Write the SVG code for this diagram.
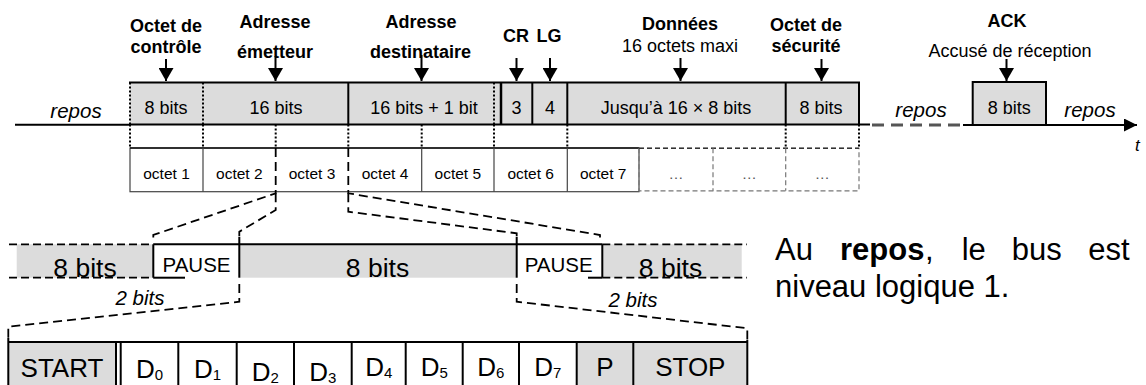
<svg xmlns="http://www.w3.org/2000/svg" width="1146" height="385" viewBox="0 0 1146 385">
<style>
text{font-family:"Liberation Sans",Arial,sans-serif;fill:#000}
.lb{font-weight:bold;font-size:18px;text-anchor:middle}
.lr{font-size:18px;text-anchor:middle}
.fr{font-size:18px;text-anchor:middle}
.oc{font-size:15.5px;text-anchor:middle}
.dots{font-size:15px;text-anchor:middle;fill:#555}
.it{font-style:italic;font-size:20.5px;text-anchor:middle}
.pz{font-size:20.5px;text-anchor:middle}
.big{font-size:26.5px;text-anchor:middle}
.bt{font-size:26px;text-anchor:middle}
.sub{font-size:15px}
.txt{font-size:31px}
.solid{stroke:#000;stroke-width:2;fill:none}
.thick{stroke:#000;stroke-width:2.5;fill:none}
.dotv{stroke:#000;stroke-width:2;stroke-dasharray:2 2;fill:none}
.thin{stroke:#444;stroke-width:1.2;fill:none}
.gdash{stroke:#777;stroke-width:1.2;stroke-dasharray:5 3;fill:none}
.conn{stroke:#000;stroke-width:1.8;stroke-dasharray:9 5;fill:none}
.edge{stroke:#000;stroke-width:1.8;stroke-dasharray:8 4;fill:none}
.gray{fill:#dcdcdc}
.arr{stroke:#000;stroke-width:2;fill:none;marker-end:url(#ah)}
</style>
<defs>
<marker id="ah" markerUnits="userSpaceOnUse" markerWidth="13" markerHeight="15" viewBox="0 0 13 15" refX="13" refY="7.5" orient="auto"><path d="M0,0 L13,7.5 L0,15 Z" fill="#000"/></marker>
<marker id="ax" markerUnits="userSpaceOnUse" markerWidth="13" markerHeight="13" viewBox="0 0 13 13" refX="13" refY="6.5" orient="auto"><path d="M0,0 L13,6.5 L0,13 Z" fill="#000"/></marker>
</defs>

<g id="labels">
<text class="lb" x="166" y="32">Octet de</text>
<text class="lb" x="166" y="53">contrôle</text>
<text class="lb" x="275" y="28">Adresse</text>
<text class="lb" x="275" y="58">émetteur</text>
<text class="lb" x="421" y="28">Adresse</text>
<text class="lb" x="420.5" y="57.5">destinataire</text>
<text class="lb" x="516" y="42">CR</text>
<text class="lb" x="549" y="42">LG</text>
<text class="lb" x="680" y="30">Données</text>
<text class="lr" x="680" y="52">16 octets maxi</text>
<text class="lb" x="806" y="31">Octet de</text>
<text class="lb" x="806" y="52">sécurité</text>
<text class="lb" x="1007" y="27">ACK</text>
<text class="lr" x="1010" y="56.5">Accusé de réception</text>
</g>

<g id="label-arrows">
<line class="arr" x1="166" y1="59" x2="166" y2="81"/>
<line class="arr" x1="275.5" y1="56" x2="275.5" y2="81"/>
<line class="arr" x1="421.5" y1="55" x2="421.5" y2="81"/>
<line class="arr" x1="516.5" y1="58" x2="516.5" y2="81"/>
<line class="arr" x1="550" y1="58" x2="550" y2="81"/>
<line class="arr" x1="680.5" y1="58" x2="680.5" y2="81"/>
<line class="arr" x1="821.5" y1="59" x2="821.5" y2="81"/>
<line class="arr" x1="1006.5" y1="59" x2="1006.5" y2="81"/>
</g>

<g id="frame">
<rect class="gray" x="130" y="82.5" width="729" height="42"/>
<line class="solid" x1="129" y1="82.5" x2="860" y2="82.5"/>
<line class="dotv" x1="130" y1="82.5" x2="130" y2="124.5"/>
<line class="dotv" x1="203" y1="82.5" x2="203" y2="124.5"/>
<line class="solid" x1="348.3" y1="82.5" x2="348.3" y2="124.5"/>
<line class="dotv" x1="494" y1="82.5" x2="494" y2="124.5"/>
<line class="thick" x1="501" y1="82.5" x2="501" y2="124.5"/>
<line class="solid" x1="532.3" y1="82.5" x2="532.3" y2="124.5"/>
<line class="solid" x1="567.3" y1="82.5" x2="567.3" y2="124.5" stroke-width="1.6"/>
<line class="solid" x1="785.7" y1="82.5" x2="785.7" y2="124.5"/>
<line class="solid" x1="859" y1="82.5" x2="859" y2="124.5"/>
<text class="fr" x="166" y="114.3">8 bits</text>
<text class="fr" x="276" y="114.3">16 bits</text>
<text class="fr" x="424" y="114.3">16 bits + 1 bit</text>
<text class="fr" x="516.5" y="114.3">3</text>
<text class="fr" x="550" y="114.3">4</text>
<text class="fr" x="676" y="114.3">Jusqu’à 16 × 8 bits</text>
<text class="fr" x="821" y="114.3">8 bits</text>
</g>

<g id="ack">
<rect class="gray" x="972.7" y="82" width="73.3" height="43"/>
<rect class="solid" x="972.7" y="82" width="73.3" height="43"/>
<text class="fr" x="1009.3" y="114.3">8 bits</text>
</g>

<g id="axis">
<line class="solid" x1="15" y1="124.8" x2="130" y2="124.8"/>
<line class="solid" x1="129" y1="124.5" x2="870" y2="124.5"/>
<line x1="872" y1="125" x2="963" y2="125" stroke="#555" stroke-width="3" stroke-dasharray="12 7"/>
<line class="solid" x1="963" y1="125" x2="973" y2="125"/>
<line x1="1046" y1="125" x2="1137" y2="125" stroke="#000" stroke-width="2" marker-end="url(#ax)"/>
<text class="it" x="76" y="117.5">repos</text>
<text class="it" x="921" y="117">repos</text>
<text class="it" x="1090" y="117">repos</text>
<text x="1135" y="151" font-style="italic" font-size="17">t</text>
</g>

<g id="dotted-links">
<line class="dotv" x1="130" y1="124.5" x2="130" y2="148"/>
<line class="dotv" x1="203" y1="124.5" x2="203" y2="148"/>
<line class="dotv" x1="275.7" y1="124.5" x2="275.7" y2="148"/>
<line class="dotv" x1="348.3" y1="124.5" x2="348.3" y2="148"/>
<line class="dotv" x1="421.7" y1="124.5" x2="421.7" y2="148"/>
<line class="dotv" x1="494" y1="124.5" x2="494" y2="148"/>
<line class="dotv" x1="567.3" y1="124.5" x2="567.3" y2="148"/>
<line class="dotv" x1="785.7" y1="124.5" x2="785.7" y2="148"/>
<line class="dotv" x1="859" y1="124.5" x2="859" y2="148"/>
</g>

<g id="octets">
<rect x="130" y="148" width="509" height="43.7" fill="#fff" class="thin"/>
<line x1="130" y1="148" x2="639" y2="148" stroke="#111" stroke-width="1.6"/>
<line class="thin" x1="203" y1="148" x2="203" y2="191.7"/>
<line class="thin" x1="421.7" y1="148" x2="421.7" y2="191.7"/>
<line class="thin" x1="494" y1="148" x2="494" y2="191.7"/>
<line class="thin" x1="567.3" y1="148" x2="567.3" y2="191.7"/>
<rect class="gdash" x="639" y="148.3" width="220" height="42.5"/>
<line x1="639" y1="148.3" x2="859" y2="148.3" stroke="#333" stroke-width="1.4" stroke-dasharray="5 3"/>
<line class="gdash" x1="713" y1="148.3" x2="713" y2="190.8"/>
<line class="gdash" x1="785.7" y1="148.3" x2="785.7" y2="190.8"/>
<text class="oc" x="166.5" y="179">octet 1</text>
<text class="oc" x="239.3" y="179">octet 2</text>
<text class="oc" x="312" y="179">octet 3</text>
<text class="oc" x="385" y="179">octet 4</text>
<text class="oc" x="457.8" y="179">octet 5</text>
<text class="oc" x="530.7" y="179">octet 6</text>
<text class="oc" x="603.2" y="179">octet 7</text>
<text class="dots" x="676" y="179">…</text>
<text class="dots" x="749.3" y="179">…</text>
<text class="dots" x="822.3" y="179">…</text>
</g>

<g id="middle-row">
<rect class="gray" x="16.7" y="244.3" width="136.6" height="33.4"/>
<rect class="gray" x="239.3" y="244.3" width="277.4" height="33.4"/>
<rect class="gray" x="602.3" y="244.3" width="139.4" height="33.4"/>
<line class="edge" x1="9" y1="244.3" x2="153.3" y2="244.3"/>
<line class="edge" x1="9" y1="277.7" x2="153.3" y2="277.7"/>
<line class="edge" x1="602.3" y1="244.3" x2="747" y2="244.3"/>
<line class="edge" x1="602.3" y1="277.7" x2="747" y2="277.7"/>
<line class="solid" x1="153.3" y1="244.3" x2="602.3" y2="244.3"/>
<line class="solid" x1="153.3" y1="244.3" x2="153.3" y2="277.7"/>
<line class="solid" x1="153.3" y1="277.7" x2="185" y2="277.7"/>
<line class="solid" x1="239.3" y1="236.7" x2="239.3" y2="277.7"/>
<line class="solid" x1="516.7" y1="236.7" x2="516.7" y2="277.7"/>
<line class="solid" x1="602.3" y1="244.3" x2="602.3" y2="277.7"/>
<line class="solid" x1="588" y1="277.7" x2="602.3" y2="277.7"/>
<text class="big" x="85" y="277">8 bits</text>
<text class="pz" x="196.5" y="272.3">PAUSE</text>
<text class="big" x="377.5" y="277">8 bits</text>
<text class="pz" x="558.7" y="272.3">PAUSE</text>
<text class="big" x="670.5" y="277">8 bits</text>
<text class="it" x="140" y="305" font-size="19">2 bits</text>
<text class="it" x="633" y="306.5" font-size="19">2 bits</text>
</g>

<g id="bottom-row">
<rect class="gray" x="8.3" y="342" width="107.7" height="50"/>
<rect class="gray" x="576.7" y="342" width="170.6" height="50"/>
<line class="solid" x1="8.3" y1="342" x2="747.3" y2="342"/>
<line class="solid" x1="8.3" y1="338" x2="8.3" y2="392"/>
<line class="solid" x1="116" y1="342" x2="116" y2="392"/>
<line class="solid" x1="120.7" y1="342" x2="120.7" y2="392"/>
<line class="solid" x1="178.3" y1="342" x2="178.3" y2="392" stroke-width="1.5"/>
<line class="solid" x1="236.7" y1="342" x2="236.7" y2="392" stroke-width="1.5"/>
<line class="solid" x1="294" y1="342" x2="294" y2="392" stroke-width="1.5"/>
<line class="solid" x1="351.7" y1="342" x2="351.7" y2="392" stroke-width="1.5"/>
<line class="solid" x1="405.7" y1="342" x2="405.7" y2="392" stroke-width="1.5"/>
<line class="solid" x1="462.7" y1="342" x2="462.7" y2="392" stroke-width="1.5"/>
<line class="solid" x1="519" y1="342" x2="519" y2="392" stroke-width="1.5"/>
<line class="solid" x1="576.7" y1="342" x2="576.7" y2="392" stroke-width="1.5"/>
<line class="solid" x1="633.3" y1="342" x2="633.3" y2="392" stroke-width="1.5"/>
<line class="solid" x1="747.3" y1="340" x2="747.3" y2="392"/>
<text class="bt" x="62" y="376.5">START</text>
<text class="bt" x="149.5" y="378">D<tspan class="sub" dy="2">0</tspan></text>
<text class="bt" x="207.5" y="378">D<tspan class="sub" dy="2">1</tspan></text>
<text class="bt" x="265.3" y="380.5">D<tspan class="sub" dy="2">2</tspan></text>
<text class="bt" x="322.8" y="380.5">D<tspan class="sub" dy="2">3</tspan></text>
<text class="bt" x="378.7" y="376">D<tspan class="sub" dy="2">4</tspan></text>
<text class="bt" x="434.2" y="376">D<tspan class="sub" dy="2">5</tspan></text>
<text class="bt" x="490.8" y="376">D<tspan class="sub" dy="2">6</tspan></text>
<text class="bt" x="547.8" y="376">D<tspan class="sub" dy="2">7</tspan></text>
<text class="bt" x="605" y="375.5">P</text>
<text class="bt" x="690.3" y="375.5">STOP</text>
</g>

<g id="connectors">
<path class="conn" d="M275.7,148 V193.3 L153.3,235 V242"/>
<path class="conn" d="M275.7,193.3 V210 L239.3,231.7 V236"/>
<path class="conn" d="M348.3,148 V193.3 L600,235 V241"/>
<path class="conn" d="M348.3,193.3 V211.7 L516.7,233.3 V236"/>
<path class="conn" d="M239.3,284 V301.7 L8.3,326.7 V338"/>
<path class="conn" d="M516.7,284 V301.7 L747.3,328.3 V340"/>
</g>

<g id="note">
<text class="txt" x="775" y="260">Au</text>
<text class="txt" x="840" y="260" font-weight="bold">repos</text>
<text class="txt" x="925" y="260">,</text>
<text class="txt" x="961.7" y="260">le</text>
<text class="txt" x="1011.7" y="260">bus</text>
<text class="txt" x="1088.3" y="260">est</text>
<text class="txt" x="775" y="296.7">niveau logique 1.</text>
</g>
</svg>
